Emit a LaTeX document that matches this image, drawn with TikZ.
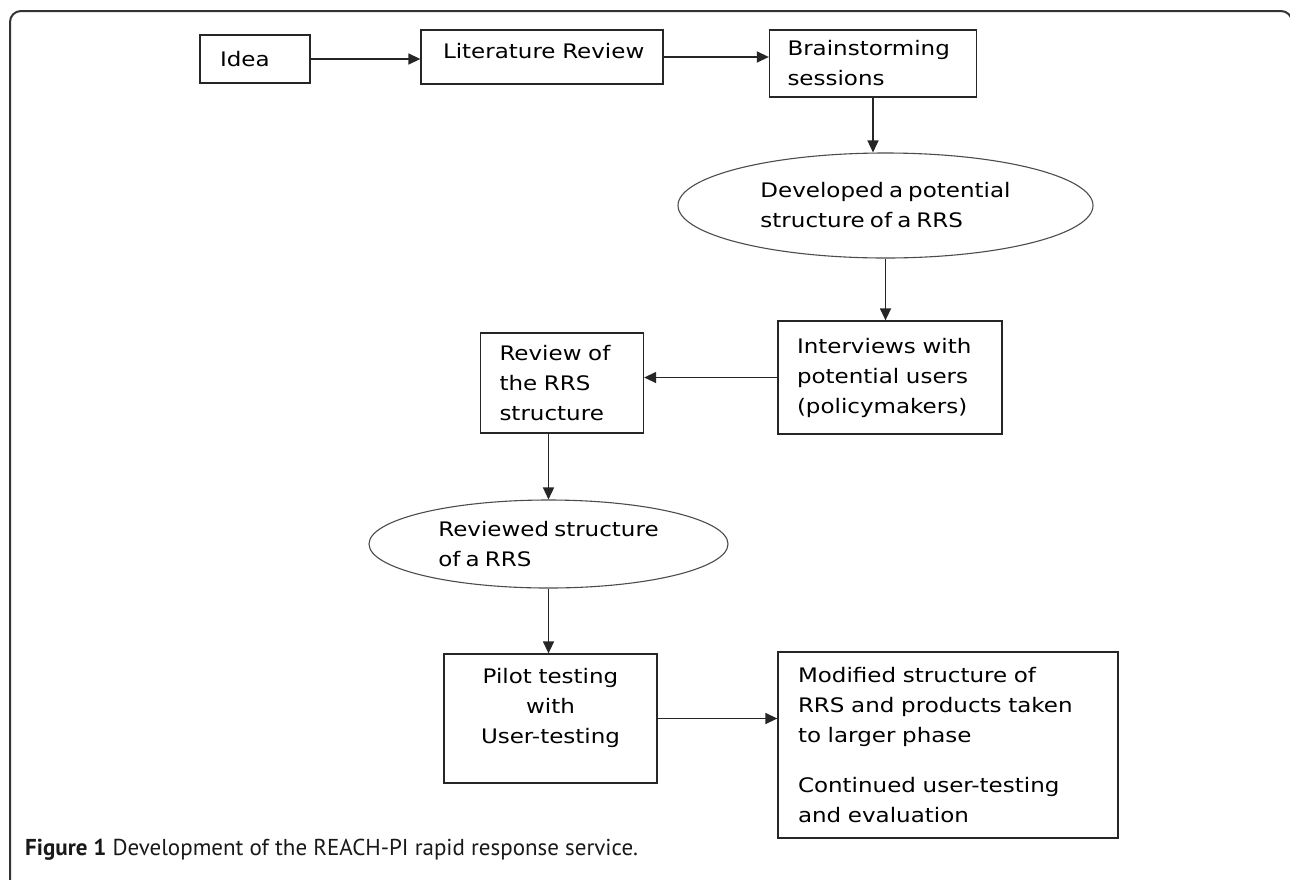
\documentclass[tikz,border=0pt]{standalone}
\usepackage{fontspec}
\usetikzlibrary{arrows.meta,shapes.geometric}
\newfontfamily\dfont{DejaVu Sans}[FakeStretch=1.15,WordSpace=0.7]
\newfontfamily\cfont{PT Sans}
\begin{document}
\hyphenpenalty=10000
\begin{tikzpicture}[x=1pt,y=-1pt,
  box/.style={draw=black!85, line width=1.3pt, rectangle, inner ysep=0pt,
    font=\dfont\fontsize{20}{30}\selectfont, align=left, text=black},
  oval/.style={draw=black!70, line width=1.1pt, ellipse, inner sep=0pt,
    font=\dfont\fontsize{20}{30}\selectfont, align=left, text=black},
  arr/.style={-{Triangle[length=12pt,width=11pt]}, line width=1.4pt, draw=black!85},
  frame/.style={draw=black!80, line width=2pt, rounded corners=11pt}]
\useasboundingbox (0,0) rectangle (1290,879);
\fill[white] (0,0) rectangle (1290,879);
\draw[frame] (10,900) -- (10,11) -- (1292,11) -- (1292,900);

\node[box, inner xsep=20pt, text width=70pt, minimum height=48pt] (idea) at (255,59) {Idea};
\node[box, inner xsep=22pt, text width=198pt, minimum height=54pt, text height=15.2pt, text depth=12pt] (lit) at (542,57) {\mbox{Literature Review}};
\node[box, inner xsep=18pt, text width=171pt, minimum height=67pt] (brain) at (873,63.5) {Brainstorming\\sessions};
\node[oval, minimum width=415pt, minimum height=105pt] (dev) at (885.5,205.5) {\mbox{Developed a potential}\\\mbox{structure of a RRS}};
\node[box, inner xsep=19pt, text width=186pt, minimum height=113pt] (interv) at (890,377.5) {\mbox{Interviews with}\\\mbox{potential users}\\(policymakers)};
\node[box, inner xsep=19pt, text width=125pt, minimum height=100pt] (review) at (562,383) {\mbox{Review of}\\\mbox{the RRS}\\structure};
\node[oval, minimum width=359pt, minimum height=88pt] (reviewed) at (548.5,544) {\mbox{Reviewed structure}\\\mbox{of a RRS}};
\node[box, inner xsep=10pt, text width=193pt, minimum height=129pt, align=center] (pilot) at (550.5,718.5) {\mbox{Pilot testing}\\with\\User-testing\\[-5pt]\mbox{}};
\node[box, inner xsep=20pt, text width=300pt, minimum height=186pt] (mod) at (948,745) {\mbox{Modified structure of}\\\mbox{RRS and products taken}\\\mbox{to larger phase}\\[20pt]\mbox{Continued user-testing}\\\mbox{and evaluation}};

\draw[arr] (idea.east) -- (idea.east -| lit.west);
\draw[arr] (lit.east) -- (lit.east -| brain.west);
\draw[arr] (brain.south) -- (brain.south |- dev.north);
\draw[arr] (dev.south) -- (dev.south |- interv.north);
\draw[arr] (interv.west) -- (interv.west -| review.east);
\draw[arr] (review.south -| reviewed.north) -- (reviewed.north);
\draw[arr] (reviewed.south) -- (reviewed.south |- pilot.north);
\draw[arr] (pilot.east) -- (pilot.east -| mod.west);

\node[anchor=west, inner sep=0pt, font=\cfont\fontsize{23}{25}\selectfont, text=black!90] (cap) at (25,850) {\textbf{Figure 1} Development of the REACH-PI rapid response service.};
\end{tikzpicture}
\end{document}
